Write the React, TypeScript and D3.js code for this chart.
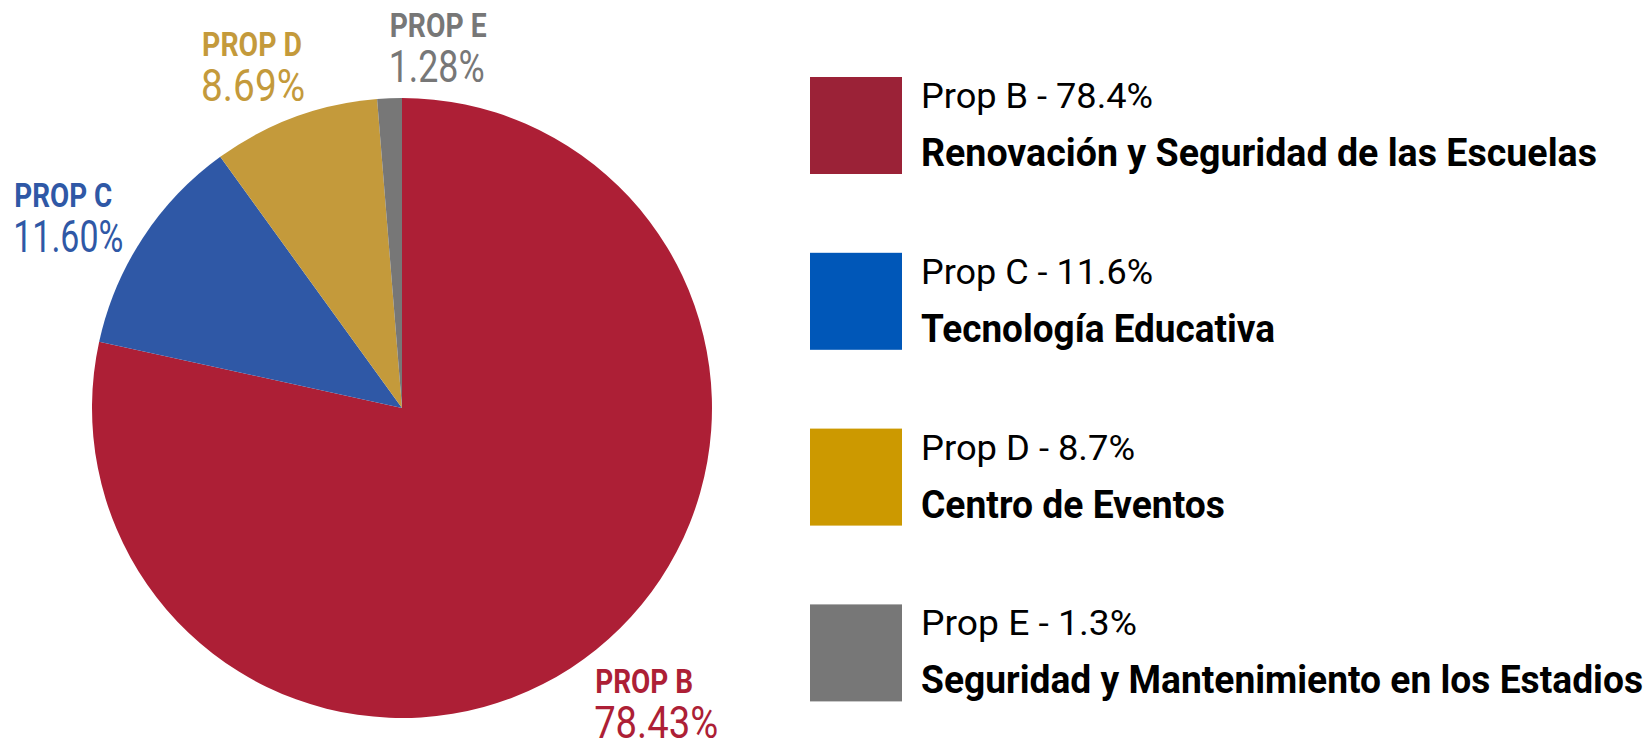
import React from "react";
import * as d3 from "d3";

// data
const props = ["PROP B", "PROP C", "PROP D", "PROP E"];
const shares = [78.43, 11.6, 8.69, 1.28];
const legendNames = ["Prop B", "Prop C", "Prop D", "Prop E"];
const legendTitles = [
  "Renovación y Seguridad de las Escuelas",
  "Tecnología Educativa",
  "Centro de Eventos",
  "Seguridad y Mantenimiento en los Estadios",
];

const sliceColors = ["#AD1F36", "#2F58A6", "#C49A3B", "#777777"];
const legendColors = ["#9B2237", "#0057B8", "#CC9900", "#777777"];

// layout
const W = 1651;
const H = 743;
const cx = 402;
const cy = 408;
const radius = 310;
const FONT = "Roboto, 'Liberation Sans', sans-serif";

// label placement relative to label-arc centroid
const labelNudge = [
  { dx: -15, dy: 26 },
  { dx: -110, dy: -19 },
  { dx: -85, dy: -41 },
  { dx: 1, dy: -39 },
];
const labelW = [98, 98, 100, 97];
const pctW = [124, 110, 104, 96];

const legendX = 810;
const legendTop = 77;
const legendStep = 175.8;
const swatchW = 92;
const swatchH = 97;
const legendLineW = [232, 232, 214, 216];
const legendTitleW = [676, 354, 304, 722];

const App = () => {
  const pie = d3
    .pie<number>()
    .sort(null)
    .value((d) => d);
  const arcs = pie(shares);
  const arc = d3.arc<d3.PieArcDatum<number>>().innerRadius(0).outerRadius(radius);
  const labelArc = d3
    .arc<d3.PieArcDatum<number>>()
    .innerRadius(radius + 22)
    .outerRadius(radius + 22);

  const fmtPct = d3.format(".2f");
  const fmtLegend = d3.format(".1f");
  const yRow = d3
    .scaleLinear()
    .domain([0, 1])
    .range([legendTop, legendTop + legendStep]);

  return (
    <svg
      width={W}
      height={H}
      style={{ position: "absolute", left: 0, top: 0, background: "#fff" }}
    >
      <g transform={`translate(${cx},${cy})`}>
        {arcs.map((a, i) => (
          <path key={i} d={arc(a) || ""} fill={sliceColors[i]} />
        ))}
      </g>

      {arcs.map((a, i) => {
        const [lx, ly] = labelArc.centroid(a);
        const x = cx + lx + labelNudge[i].dx;
        const y = cy + ly + labelNudge[i].dy;
        return (
          <g key={i} fill={sliceColors[i]} fontFamily={FONT}>
            <text
              x={x}
              y={y}
              fontSize={33}
              fontWeight="bold"
              textLength={labelW[i]}
              lengthAdjust="spacingAndGlyphs"
            >
              {props[i]}
            </text>
            <text
              x={x - 1}
              y={y + 45}
              fontSize={45}
              textLength={pctW[i]}
              lengthAdjust="spacingAndGlyphs"
            >
              {fmtPct(shares[i])}%
            </text>
          </g>
        );
      })}

      {legendNames.map((name, i) => {
        const top = yRow(i);
        return (
          <g key={name} fontFamily={FONT} fill="#000">
            <rect
              x={legendX}
              y={top}
              width={swatchW}
              height={swatchH}
              fill={legendColors[i]}
            />
            <text
              x={legendX + 111}
              y={top + 31}
              fontSize={35}
              textLength={legendLineW[i]}
              lengthAdjust="spacingAndGlyphs"
            >
              {`${name} - ${fmtLegend(shares[i])}%`}
            </text>
            <text
              x={legendX + 111}
              y={top + 89}
              fontSize={39}
              fontWeight="bold"
              textLength={legendTitleW[i]}
              lengthAdjust="spacingAndGlyphs"
            >
              {legendTitles[i]}
            </text>
          </g>
        );
      })}
    </svg>
  );
};

export default App;
